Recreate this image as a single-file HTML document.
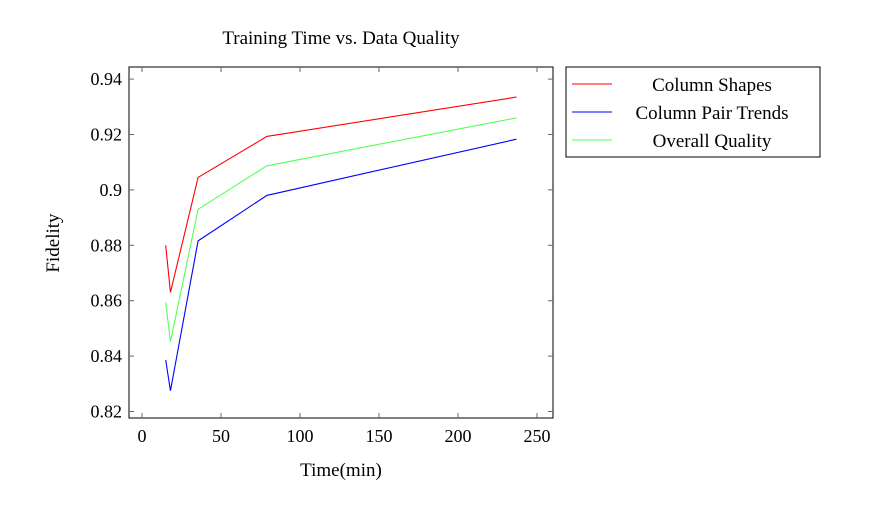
<!DOCTYPE html>
<html><head><meta charset="utf-8"><style>
body{margin:0;background:#fff;}
svg text{font-family:"Liberation Serif",serif;fill:#000;}
</style></head><body>
<svg id="chart" width="874" height="521" xmlns="http://www.w3.org/2000/svg">
<text x="341" y="44" font-size="19" text-anchor="middle">Training Time vs. Data Quality</text>
<rect x="129" y="67" width="424" height="351" fill="none" stroke="#000" stroke-width="1"/>
<g id="ticks"></g>
<g id="series"></g>
<text x="341" y="476" font-size="19" text-anchor="middle">Time(min)</text>
<text transform="translate(59,243) rotate(-90)" font-size="19" text-anchor="middle">Fidelity</text>
<g>
<rect x="566" y="67" width="254" height="90" fill="#fff" stroke="#000"/>
<line x1="572" x2="612" y1="84" y2="84" stroke="#f00"/>
<text x="712" y="91" font-size="19" text-anchor="middle">Column Shapes</text>
<line x1="572" x2="612" y1="112" y2="112" stroke="#00f"/>
<text x="712" y="119" font-size="19" text-anchor="middle">Column Pair Trends</text>
<line x1="572" x2="612" y1="140" y2="140" stroke="#5f5"/>
<text x="712" y="147" font-size="19" text-anchor="middle">Overall Quality</text>
</g>
</svg>
<script>
const times=[15,18,35.5,79,237];
const columnShapes=[0.880,0.863,0.9045,0.9193,0.9335];
const columnPairTrends=[0.8386,0.8275,0.8816,0.898,0.9183];
const overallQuality=[0.8594,0.8452,0.893,0.9087,0.926];
const xTicks=[0,50,100,150,200,250];
const yTicks=[0.82,0.84,0.86,0.88,0.9,0.92,0.94];
const yTickLabels=["0.82","0.84","0.86","0.88","0.9","0.92","0.94"];
const NS="http://www.w3.org/2000/svg";
function xs(v){return 142+v*1.58;}
function ys(v){return 79.1+(0.94-v)/0.02*55.4;}
const tg=document.getElementById('ticks');
function mk(t,a){const e=document.createElementNS(NS,t);for(const k in a)e.setAttribute(k,a[k]);return e;}
xTicks.forEach(v=>{
 const x=xs(v);
 const t1=mk('line',{x1:x,x2:x,y1:418,y2:413,stroke:'#666'});
 
 
 tg.appendChild(t1);
 const t2=mk('line',{x1:x,x2:x,y1:67,y2:72,stroke:'#666'});
 
 
 tg.appendChild(t2);
 const l=mk('text',{x:x,y:442,'font-size':18,'text-anchor':'middle'});
 
 
 l.textContent=v;tg.appendChild(l);
});
yTicks.forEach((v,i)=>{
 const y=ys(v);
 const t1=mk('line',{x1:129,x2:134,y1:y,y2:y,stroke:'#666'});
 
 
 tg.appendChild(t1);
 const t2=mk('line',{x1:548,x2:553,y1:y,y2:y,stroke:'#666'});
 
 
 tg.appendChild(t2);
 const l=mk('text',{x:122,y:y+6,'font-size':18,'text-anchor':'end'});
 
 
 l.textContent=yTickLabels[i];tg.appendChild(l);
});
const sg=document.getElementById('series');
[[columnShapes,'#f00','line-column-shapes'],[columnPairTrends,'#00f','line-column-pair-trends'],[overallQuality,'#5f5','line-overall-quality']].forEach(s=>{
 const p=mk('polyline',{points:times.map((t,i)=>xs(t)+','+ys(s[0][i])).join(' '),fill:'none',stroke:s[1],'stroke-width':1.1});
 
 
 sg.appendChild(p);
});
</script>
</body></html>
